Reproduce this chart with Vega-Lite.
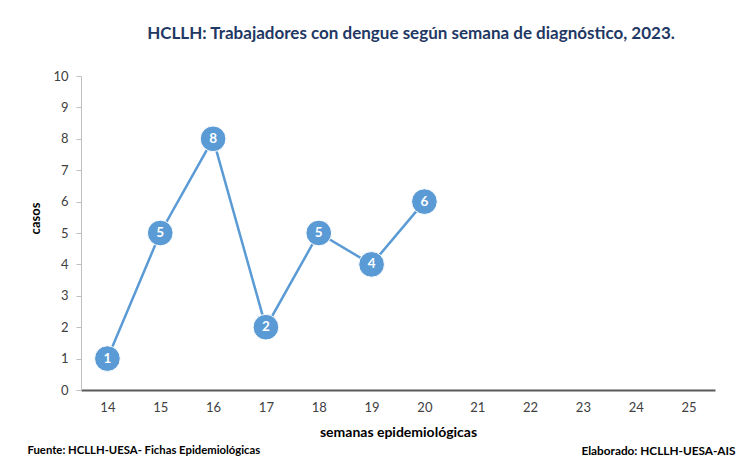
{
  "$schema": "https://vega.github.io/schema/vega-lite/v6.json",
  "autosize": "none",
  "width": 634,
  "height": 314,
  "padding": {"left": 81, "top": 76, "right": 26, "bottom": 66},
  "background": "white",
  "title": {
    "text": "HCLLH: Trabajadores con dengue según semana de diagnóstico, 2023.",
    "font": "Lato",
    "fontSize": 17,
    "fontWeight": "bold",
    "color": "#1F3864",
    "anchor": "middle",
    "dx": 13,
    "offset": 27
  },
  "config": {
    "view": {"stroke": null},
    "font": "Lato",
    "axis": {"labelFont": "Lato", "titleFont": "Lato", "grid": false}
  },
  "data": {
    "values": [
      {"semana": "14", "casos": 1},
      {"semana": "15", "casos": 5},
      {"semana": "16", "casos": 8},
      {"semana": "17", "casos": 2},
      {"semana": "18", "casos": 5},
      {"semana": "19", "casos": 4},
      {"semana": "20", "casos": 6}
    ]
  },
  "encoding": {
    "y": {
      "field": "casos", "type": "quantitative",
      "scale": {"domain": [0, 10]},
      "axis": {
        "title": "casos", "titleFontSize": 13, "titleFontWeight": "bold", "titleColor": "#000000",
        "titleAngle": -90, "titleX": -46, "titleY": 142, "titleAlign": "center", "titleBaseline": "middle",
        "values": [0,1,2,3,4,5,6,7,8,9,10],
        "labelOverlap": false,
        "labelFontSize": 13, "labelColor": "#404040", "labelPadding": 8,
        "tickSize": 5, "tickColor": "#BFBFBF", "domainColor": "#BFBFBF"
      }
    }
  },
  "resolve": {"scale": {"x": "independent"}, "axis": {"x": "independent"}},
  "layer": [
    {
      "mark": {"type": "line", "color": "#5B9BD5", "strokeWidth": 2.5},
      "encoding": {
        "x": {
          "field": "semana", "type": "ordinal",
          "scale": {"domain": ["14","15","16","17","18","19","20","21","22","23","24","25"], "paddingInner": 0, "paddingOuter": 0},
          "axis": {
            "orient": "bottom",
            "title": "semanas epidemiológicas",
            "titleFontSize": 14, "titleFontWeight": "bold", "titleColor": "#000000",
            "titlePadding": 11,
            "labelAngle": 0, "labelFontSize": 13, "labelColor": "#404040", "labelPadding": 11,
            "ticks": false, "tickSize": 0,
            "domainColor": "#595959", "domainWidth": 2
          }
        }
      }
    },
    {
      "mark": {"type": "point", "filled": true, "color": "#5B9BD5", "opacity": 1, "size": 660, "stroke": "#FFFFFF", "strokeWidth": 1},
      "encoding": {
        "x": {
          "field": "semana", "type": "ordinal",
          "scale": {"domain": ["14","15","16","17","18","19","20","21","22","23","24","25"], "paddingInner": 0, "paddingOuter": 0},
          "axis": {
            "orient": "bottom", "labels": false, "ticks": false, "domain": false,
            "title": "Fuente: HCLLH-UESA- Fichas Epidemiológicas",
            "titleFontSize": 11.3, "titleFontWeight": "bold", "titleColor": "#000000",
            "titleX": -54, "titleY": 60, "titleAlign": "left", "titleBaseline": "middle"
          }
        }
      }
    },
    {
      "mark": {"type": "text", "color": "#FFFFFF", "fontWeight": "bold", "fontSize": 13.5, "baseline": "middle", "align": "center"},
      "encoding": {
        "x": {
          "field": "semana", "type": "ordinal",
          "scale": {"domain": ["14","15","16","17","18","19","20","21","22","23","24","25"], "paddingInner": 0, "paddingOuter": 0},
          "axis": {
            "orient": "bottom", "labels": false, "ticks": false, "domain": false,
            "title": "Elaborado: HCLLH-UESA-AIS",
            "titleFontSize": 11.8, "titleFontWeight": "bold", "titleColor": "#000000",
            "titleX": 654, "titleY": 60, "titleAlign": "right", "titleBaseline": "middle"
          }
        },
        "text": {"field": "casos", "type": "quantitative"}
      }
    }
  ]
}
